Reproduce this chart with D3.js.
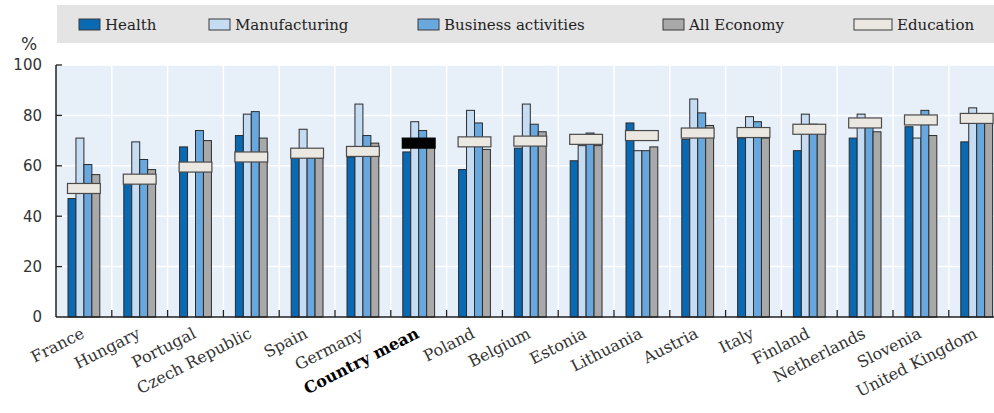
<!DOCTYPE html>
<html>
<head>
<meta charset="utf-8">
<script src="https://cdn.jsdelivr.net/npm/d3@7"></script>
<style>
  html, body { margin: 0; padding: 0; background: #fff; }
  svg { display: block; }
</style>
</head>
<body>
<svg id="chart" width="994" height="413"></svg>
<script>
const categories = ["France","Hungary","Portugal","Czech Republic","Spain","Germany","Country mean","Poland","Belgium","Estonia","Lithuania","Austria","Italy","Finland","Netherlands","Slovenia","United Kingdom"];
const seriesNames = ["Health","Manufacturing","Business activities","All Economy"];
const health        = [47, 53, 67.5, 72, 63, 63.5, 65.5, 58.5, 67, 62, 77, 70.5, 71, 66, 71, 75.5, 69.5];
const manufacturing = [71, 69.5, null, 80.5, 74.5, 84.5, 77.5, 82, 84.5, 68, 66, 86.5, 79.5, 80.5, 80.5, 71, 83];
const business      = [60.5, 62.5, 74, 81.5, 63, 72, 74, 77, 76.5, 73, 66, 81, 77.5, 76.5, 77.5, 82, 78];
const allEconomy    = [56.5, 58.5, 70, 71, 63, 69, 68, 66.5, 73.5, 68, 67.5, 76, 71, 76, 73.5, 72, 77];
const education     = [51, 54.7, 59.5, 63.5, 65, 65.7, 69, 69.5, 69.8, 70.5, 72, 73, 73.2, 74.5, 77, 78.2, 78.8];
const yTicks = [0, 20, 40, 60, 80, 100];
const highlight = "Country mean";

(function () {
const colors = ["#0a69b3", "#c6dcf2", "#69a8de", "#a9a9a9"];
const eduColor = "#ebe8e1";

const svg = d3.select("#chart");
const mLeft = 56, mTop = 65, mBottom = 317, step = 55.8;

const x0 = d3.scaleBand().domain(categories).range([mLeft, mLeft + step * categories.length]).padding(0);
const bw = x0.bandwidth();
const x1 = d3.scaleBand().domain(seriesNames).range([bw * 0.215, bw * 0.785]).padding(0);
const y = d3.scaleLinear().domain([0, 100]).range([mBottom, mTop]);

// plot background
svg.append("rect").attr("x", mLeft).attr("y", mTop).attr("width", step * categories.length).attr("height", mBottom - mTop).attr("fill", "#e7eff9");

// horizontal gridlines
svg.append("g").selectAll("line").data(yTicks.filter(d => d > 0)).join("line")
  .attr("x1", mLeft).attr("x2", mLeft + step * categories.length)
  .attr("y1", d => y(d)).attr("y2", d => y(d))
  .attr("stroke", "#fff").attr("stroke-width", 1.5);
// vertical gridlines at category boundaries
svg.append("g").selectAll("line").data(categories.slice(1)).join("line")
  .attr("x1", d => x0(d)).attr("x2", d => x0(d))
  .attr("y1", mTop).attr("y2", mBottom)
  .attr("stroke", "#fff").attr("stroke-width", 1.5);

// bars
const seriesData = [health, manufacturing, business, allEconomy];
const groups = svg.append("g").selectAll("g").data(categories).join("g")
  .attr("transform", d => `translate(${x0(d)},0)`);
groups.selectAll("rect.bar")
  .data((c, i) => seriesNames.map((s, k) => ({ s, k, v: seriesData[k][i] })).filter(d => d.v != null))
  .join("rect").attr("class", "bar")
  .attr("x", d => x1(d.s)).attr("width", x1.bandwidth())
  .attr("y", d => y(d.v)).attr("height", d => y(0) - y(d.v))
  .attr("fill", d => colors[d.k]).attr("stroke", "#2b2b2b").attr("stroke-width", 1);

// education markers
groups.append("rect")
  .attr("x", x1.range()[0] - 0.5).attr("width", x1.range()[1] - x1.range()[0] + 1)
  .attr("y", (c, i) => y(education[i]) - 5).attr("height", 10)
  .attr("fill", c => c === highlight ? "#000" : eduColor)
  .attr("stroke", c => c === highlight ? "#000" : "#4a4a4a").attr("stroke-width", 1.2);

// axes lines
svg.append("line").attr("x1", mLeft).attr("x2", 994).attr("y1", mBottom).attr("y2", mBottom).attr("stroke", "#222").attr("stroke-width", 1.5);
svg.append("line").attr("x1", mLeft).attr("x2", mLeft).attr("y1", mTop).attr("y2", mBottom).attr("stroke", "#222").attr("stroke-width", 1.5);

// y ticks (inward) and labels
const yAxis = d3.axisLeft(y).tickValues(yTicks).tickSize(0).tickPadding(14);
const yg = svg.append("g").attr("transform", `translate(${mLeft},0)`).call(yAxis);
yg.select(".domain").remove();
yg.selectAll("text").attr("font-family", "DejaVu Sans").attr("font-size", 15).attr("fill", "#333");
svg.append("g").selectAll("line").data(yTicks.filter(d => d > 0)).join("line")
  .attr("x1", mLeft).attr("x2", mLeft + 6).attr("y1", d => y(d)).attr("y2", d => y(d))
  .attr("stroke", "#222").attr("stroke-width", 1.3);

// x category boundary ticks (upward)
svg.append("g").selectAll("line").data(categories.slice(1)).join("line")
  .attr("x1", d => x0(d)).attr("x2", d => x0(d)).attr("y1", mBottom).attr("y2", mBottom - 7)
  .attr("stroke", "#222").attr("stroke-width", 1.3);

// category labels
svg.append("g").selectAll("text").data(categories).join("text")
  .attr("transform", d => `translate(${x0(d) + bw / 2 + 1.5},337) rotate(-27)`)
  .attr("text-anchor", "end")
  .attr("font-family", "DejaVu Serif").attr("font-size", 16)
  .attr("font-weight", d => d === highlight ? "bold" : "normal")
  .attr("fill", d => d === highlight ? "#000" : "#333")
  .text(d => d);

// "%" label
svg.append("text").attr("x", 29).attr("y", 50).attr("text-anchor", "middle")
  .attr("font-family", "DejaVu Sans").attr("font-size", 17).attr("fill", "#333").text("%");

// legend
svg.append("rect").attr("x", 57).attr("y", 5).attr("width", 940).attr("height", 38).attr("fill", "#e4e4e4");
const legendItems = [
  { name: "Health", fill: colors[0], x: 79, w: 21 },
  { name: "Manufacturing", fill: colors[1], x: 209, w: 21 },
  { name: "Business activities", fill: colors[2], x: 418, w: 21 },
  { name: "All Economy", fill: colors[3], x: 663, w: 21 },
  { name: "Education", fill: eduColor, x: 854, w: 38 }
];
const lg = svg.append("g").selectAll("g").data(legendItems).join("g");
lg.append("rect").attr("x", d => d.x).attr("y", 19).attr("width", d => d.w).attr("height", 11)
  .attr("fill", d => d.fill).attr("stroke", "#3a3a3a").attr("stroke-width", 1);
lg.append("text").attr("x", d => d.x + d.w + 5).attr("y", 29.5)
  .attr("font-family", "DejaVu Serif").attr("font-size", 15).attr("fill", "#222")
  .text(d => d.name);
})();
</script>
</body>
</html>
